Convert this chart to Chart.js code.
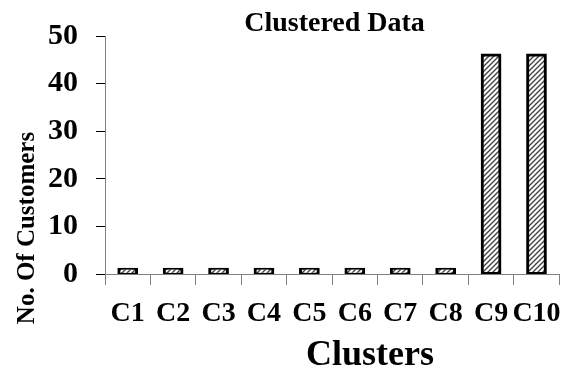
<!DOCTYPE html>
<html>
<head>
<meta charset="utf-8">
<script src="https://cdn.jsdelivr.net/npm/chart.js@4.4.1/dist/chart.umd.min.js"></script>
<style>
html,body{margin:0;padding:0;background:#fff;}
#wrap{width:573px;height:371px;position:relative;}
</style>
</head>
<body>
<div id="wrap"><canvas id="c" width="573" height="371"></canvas></div>
<script>
const categories = ["C1","C2","C3","C4","C5","C6","C7","C8","C9","C10"];
const customers = [1,1,1,1,1,1,1,1,46,46];
const yTicks = [0,10,20,30,40,50];
const chartTitle = "Clustered Data";
const xTitle = "Clusters";
const yTitle = "No. Of Customers";

const FONT = "'Liberation Serif', 'Times New Roman', serif";

function hatch(){
  const p = document.createElement('canvas');
  p.width = 5; p.height = 5;
  const g = p.getContext('2d');
  g.fillStyle = '#fff'; g.fillRect(0,0,5,5);
  g.strokeStyle = '#444'; g.lineWidth = 1.4;
  g.beginPath();
  g.moveTo(-1,6); g.lineTo(6,-1);
  g.moveTo(-3,3); g.lineTo(3,-3);
  g.moveTo(2,8); g.lineTo(8,2);
  g.stroke();
  return g.createPattern(p,'repeat');
}

const textPlugin = {
  id:'texts',
  afterDraw(chart){
    const ctx = chart.ctx;
    ctx.save();
    ctx.fillStyle = '#000';
    ctx.textAlign = 'center';
    ctx.textBaseline = 'alphabetic';
    ctx.font = "bold 28px " + FONT;
    ctx.fillText(chartTitle, 334.5, 31);
    ctx.font = "bold 36px " + FONT;
    ctx.fillText(xTitle, 370, 365);
    ctx.translate(34, 228);
    ctx.rotate(-Math.PI/2);
    ctx.font = "bold 25px " + FONT;
    ctx.fillText(yTitle, 0, 0);
    ctx.restore();
  }
};

new Chart(document.getElementById('c'), {
  type:'bar',
  data:{
    labels:categories,
    datasets:[{
      data:customers,
      backgroundColor:hatch(),
      borderColor:'#000',
      borderWidth:3,
      borderSkipped:false,
      inflateAmount:1.5,
      categoryPercentage:1,
      barPercentage:0.39
    }]
  },
  options:{
    responsive:false,
    animation:false,
    devicePixelRatio:1,
    layout:{padding:{left:0,top:32,right:8,bottom:0}},
    plugins:{legend:{display:false},tooltip:{enabled:false},title:{display:false}},
    scales:{
      x:{
        grid:{display:true,drawOnChartArea:false,drawTicks:true,tickLength:11,color:'#808080',lineWidth:1,offset:true},
        border:{display:true,color:'#808080',width:1},
        ticks:{color:'#000',font:{family:FONT,size:28,weight:'bold'},padding:12,maxRotation:0,autoSkip:false},
        afterFit(s){s.height = 97;}
      },
      y:{
        min:0,max:50,
        grid:{display:true,drawOnChartArea:false,drawTicks:true,tickLength:9,color:'#000',lineWidth:1},
        border:{display:true,color:'#808080',width:1},
        afterBuildTicks(s){s.ticks = yTicks.map(v=>({value:v}));},
        ticks:{color:'#000',font:{family:FONT,size:30,weight:'bold'},padding:18},
        afterFit(s){s.width = 105;}
      }
    }
  },
  plugins:[textPlugin]
});
</script>
</body>
</html>
